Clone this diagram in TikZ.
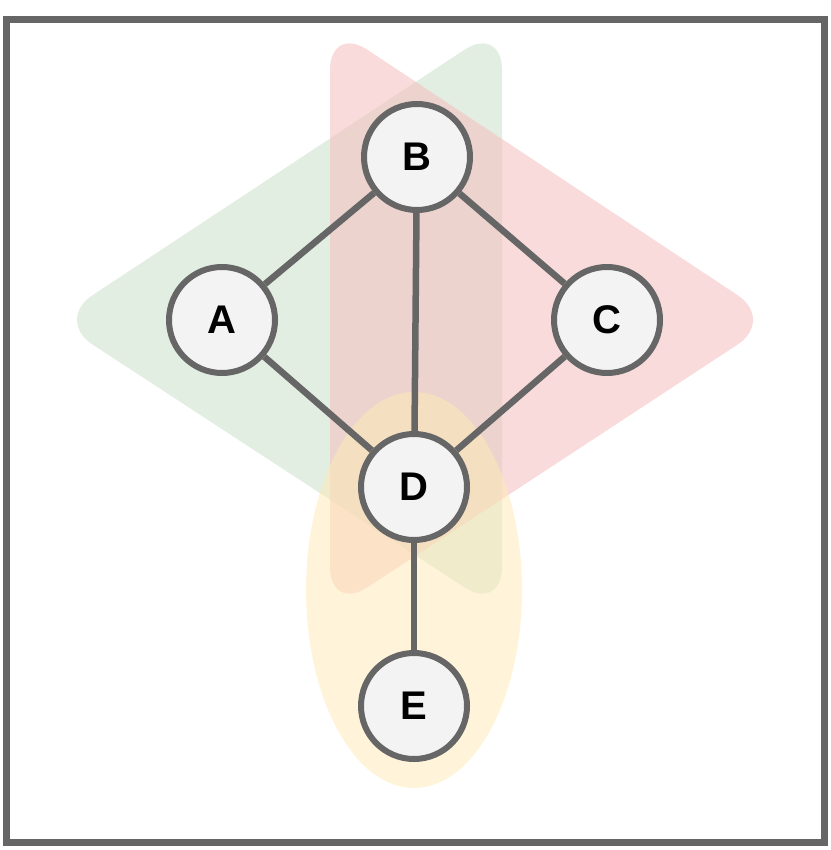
\documentclass[tikz,border=0pt]{standalone}
\usepackage{fontspec}
\setmainfont{Liberation Sans}
\begin{document}
\begin{tikzpicture}[x=1pt,y=-1pt,
  vtx/.style={circle,draw=gray6,fill=gray1,line width=6pt,minimum size=106pt,inner sep=0pt,font=\fontsize{40}{40}\selectfont\bfseries},
  edg/.style={draw=gray6,line width=6.5pt}]
\definecolor{gray6}{HTML}{666666}
\definecolor{gray1}{HTML}{F3F3F3}
\definecolor{hgreen}{HTML}{CFE3CF}
\definecolor{hred}{HTML}{F5BEBE}
\definecolor{hyellow}{HTML}{FFEBB5}
\useasboundingbox (0,0) rectangle (830,850);
\fill[white] (0,0) rectangle (830,850);
\fill[hgreen,opacity=0.6,rounded corners=45pt] (55,320) -- (502,25) -- (502,612) -- cycle;
\fill[hred,opacity=0.55,rounded corners=45pt] (775,320) -- (330,25) -- (330,612) -- cycle;
\fill[hyellow,opacity=0.5] (414,590) ellipse [x radius=108, y radius=198];
\node[vtx] (B) at (417,157) {B};
\node[vtx] (A) at (222,320) {A};
\node[vtx] (C) at (607,320) {C};
\node[vtx] (D) at (414,487) {D};
\node[vtx] (E) at (414,706) {E};
\begin{scope}[on background layer/.style={}]
\end{scope}
\draw[edg] (A) -- (B);
\draw[edg] (B) -- (C);
\draw[edg] (B) -- (D);
\draw[edg] (A) -- (D);
\draw[edg] (C) -- (D);
\draw[edg] (D) -- (E);
\draw[draw=gray6,line width=7pt] (6,20) rectangle (824,842);
\end{tikzpicture}
\end{document}
